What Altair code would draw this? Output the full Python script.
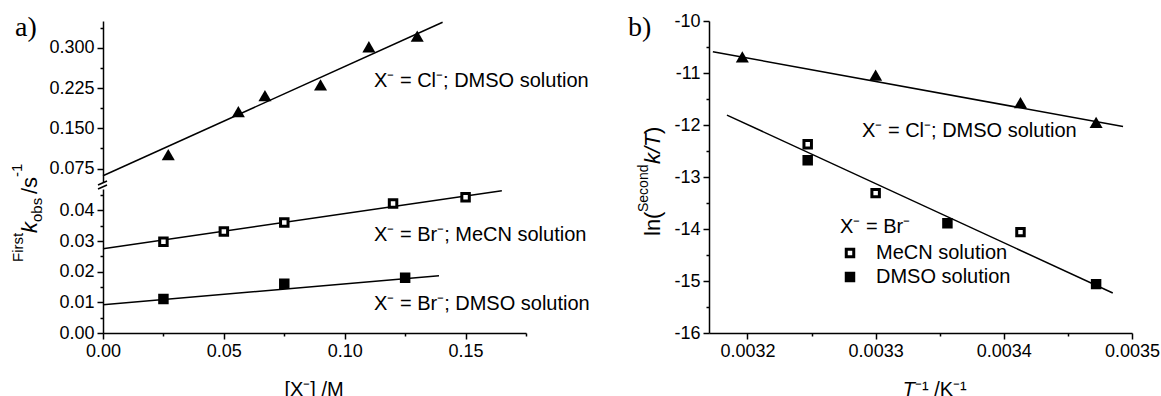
import altair as alt
import pandas as pd

FONT = "Liberation Sans"
SERIF = "Liberation Serif"

# ---------------- Panel a data ----------------
cl_a_x = [0.027, 0.056, 0.067, 0.090, 0.110, 0.130]
cl_a_y = [0.101, 0.181, 0.211, 0.231, 0.302, 0.322]
cl_a_fit_x = [0.0, 0.1405]
cl_a_fit_y = [0.0616, 0.3477]

mecn_a_x = [0.025, 0.050, 0.075, 0.120, 0.150]
mecn_a_y = [0.0298, 0.0331, 0.0361, 0.0423, 0.0443]
mecn_a_fit_x = [0.0, 0.165]
mecn_a_fit_y = [0.0275, 0.0464]

dmso_a_x = [0.025, 0.075, 0.125]
dmso_a_y = [0.0111, 0.0161, 0.0180]
dmso_a_fit_x = [0.0, 0.139]
dmso_a_fit_y = [0.0092, 0.0187]

# ---------------- Panel b data ----------------
cl_b_x = [0.003196, 0.003300, 0.003413, 0.003472]
cl_b_y = [-10.69, -11.04, -11.57, -11.95]
cl_b_fit_x = [0.003173, 0.003493]
cl_b_fit_y = [-10.59, -12.03]

mecn_b_x = [0.003247, 0.003300, 0.003413]
mecn_b_y = [-12.37, -13.31, -14.06]
dmso_b_x = [0.003247, 0.003356, 0.003472]
dmso_b_y = [-12.68, -13.89, -15.06]
br_b_fit_x = [0.003184, 0.003485]
br_b_fit_y = [-11.81, -15.23]

solvents = ["MeCN solution", "DMSO solution"]

# ---------------- Ticks ----------------
a_x_major = [0.0, 0.05, 0.10, 0.15]
a_x_minor = [0.025, 0.075, 0.125, 0.175]
a_up_major = [0.075, 0.150, 0.225, 0.300]
a_up_minor = [0.1125, 0.1875, 0.2625, 0.3375]
a_lo_major = [0.0, 0.01, 0.02, 0.03, 0.04]
a_lo_minor = [0.005, 0.015, 0.025, 0.035, 0.045]
b_x_major = [0.0032, 0.0033, 0.0034, 0.0035]
b_x_minor = [0.00325, 0.00335, 0.00345]
b_y_major = [-16, -15, -14, -13, -12, -11, -10]
b_y_minor = [-15.5, -14.5, -13.5, -12.5, -11.5, -10.5]

# ---------------- Tables ----------------
df_cl_a = pd.DataFrame({"x": cl_a_x, "y": cl_a_y})
df_cl_a_fit = pd.DataFrame({"x": cl_a_fit_x, "y": cl_a_fit_y})
df_mecn_a = pd.DataFrame({"x": mecn_a_x, "y": mecn_a_y})
df_dmso_a = pd.DataFrame({"x": dmso_a_x, "y": dmso_a_y})
df_br_a_fit = pd.concat([
    pd.DataFrame({"x": mecn_a_fit_x, "y": mecn_a_fit_y, "s": "MeCN"}),
    pd.DataFrame({"x": dmso_a_fit_x, "y": dmso_a_fit_y, "s": "DMSO"}),
])
df_cl_b = pd.DataFrame({"x": cl_b_x, "y": cl_b_y})
df_b_fit = pd.concat([
    pd.DataFrame({"x": cl_b_fit_x, "y": cl_b_fit_y, "s": "Cl"}),
    pd.DataFrame({"x": br_b_fit_x, "y": br_b_fit_y, "s": "Br"}),
])
df_br_b = pd.concat([
    pd.DataFrame({"x": mecn_b_x, "y": mecn_b_y, "solvent": solvents[0]}),
    pd.DataFrame({"x": dmso_b_x, "y": dmso_b_y, "solvent": solvents[1]}),
])

# Whole drawing area: panel a occupies [0, 423], panel b [606, 1029]
W, H = 1029, 312
BX = 606  # left edge of panel b

def xa():
    return alt.Scale(domain=[0, 0.175], range=[0, 423], nice=False, zero=False)

def ya_up():
    return alt.Scale(domain=[0.05, 0.35], range=[161, 0], nice=False, zero=False)

def ya_lo():
    return alt.Scale(domain=[0, 0.047], range=[312, 168], nice=False, zero=False)

def xb():
    return alt.Scale(domain=[0.00317, 0.0035], range=[BX, BX + 423], nice=False, zero=False)

def yb():
    return alt.Scale(domain=[-16, -10], range=[312, 0], nice=False, zero=False)


_one = pd.DataFrame({"k": [0]})


def label(text, x, y, size=20, font=FONT, style=None, align="left", angle=None,
          baseline="alphabetic"):
    kw = dict(text=text, fontSize=size, font=font, color="black", align=align,
              baseline=baseline)
    if style:
        kw["fontStyle"] = style
    if angle is not None:
        kw["angle"] = angle
    return alt.Chart(_one).mark_text(**kw).encode(x=alt.value(x), y=alt.value(y))


def minor(values, orient, offset=0):
    return alt.Axis(values=values, labels=False, tickSize=3, domain=False,
                    title=None, orient=orient, offset=offset)


def major(values, orient, fmt=None, expr=None, offset=0):
    kw = dict(values=values, title=None, orient=orient, offset=offset)
    if fmt:
        kw["format"] = fmt
    if expr:
        kw["labelExpr"] = expr
    return alt.Axis(**kw)


def rule(x, x2, y, y2):
    return alt.Chart(_one).mark_rule(color="black", strokeWidth=1.5).encode(
        x=alt.value(x), x2=alt.value(x2), y=alt.value(y), y2=alt.value(y2))


# ---------------- Panel a, upper segment ----------------
up_fit = alt.Chart(df_cl_a_fit).mark_line(color="black", strokeWidth=1.5).encode(
    x=alt.X("x:Q", scale=xa(), axis=None),
    y=alt.Y("y:Q", scale=ya_up(), axis=major(a_up_major, "left", ".3f")),
)
up_pts = alt.Chart(df_cl_a).mark_point(shape="triangle-up", filled=True, size=170,
                                       color="black", opacity=1).encode(
    x=alt.X("x:Q", scale=xa(), axis=None),
    y=alt.Y("y:Q", scale=ya_up(), axis=minor(a_up_minor, "left")),
)

# ---------------- Panel a, lower segment ----------------
lo_fit = alt.Chart(df_br_a_fit).mark_line(color="black", strokeWidth=1.5).encode(
    x=alt.X("x:Q", scale=xa(), axis=major(a_x_major, "bottom", ".2f")),
    y=alt.Y("y:Q", scale=ya_lo(), axis=major(a_lo_major, "left", ".2f")),
    detail="s:N",
)
lo_open = alt.Chart(df_mecn_a).mark_point(shape="square", filled=True, size=56,
                                          fill="white", stroke="black",
                                          strokeWidth=3, opacity=1).encode(
    x=alt.X("x:Q", scale=xa(), axis=minor(a_x_minor, "bottom")),
    y=alt.Y("y:Q", scale=ya_lo(), axis=minor(a_lo_minor, "left")),
)
lo_fill = alt.Chart(df_dmso_a).mark_point(shape="square", filled=True, size=56,
                                          fill="black", stroke="black",
                                          strokeWidth=3, opacity=1).encode(
    x=alt.X("x:Q", scale=xa(), axis=None),
    y=alt.Y("y:Q", scale=ya_lo(), axis=None),
)

# ---------------- Panel b ----------------
b_fit = alt.Chart(df_b_fit).mark_line(color="black", strokeWidth=1.5).encode(
    x=alt.X("x:Q", scale=xb(), axis=major(b_x_major, "bottom", ".4f")),
    y=alt.Y("y:Q", scale=yb(), axis=major(b_y_major, "left", expr="'' + datum.value",
                                          offset=-BX)),
    detail="s:N",
)
b_cl = alt.Chart(df_cl_b).mark_point(shape="triangle-up", filled=True, size=170,
                                     color="black", opacity=1).encode(
    x=alt.X("x:Q", scale=xb(), axis=minor(b_x_minor, "bottom")),
    y=alt.Y("y:Q", scale=yb(), axis=minor(b_y_minor, "left", offset=-BX)),
)
b_br = alt.Chart(df_br_b).mark_point(shape="square", filled=True, size=56,
                                     stroke="black", strokeWidth=3, opacity=1).encode(
    x=alt.X("x:Q", scale=xb(), axis=None),
    y=alt.Y("y:Q", scale=yb(), axis=None),
    fill=alt.Fill("solvent:N", scale=alt.Scale(domain=solvents, range=["white", "black"]),
                  legend=alt.Legend(
                      title="X\u207b = Br\u207b", orient="none", legendX=BX + 131,
                      legendY=196, direction="vertical", titleFont=FONT,
                      titleFontSize=20, titleFontWeight="normal", titleColor="black",
                      titlePadding=6, labelFont=FONT, labelFontSize=20,
                      labelColor="black", labelOffset=16, symbolType="square",
                      symbolSize=56, symbolStrokeColor="black", symbolStrokeWidth=3,
                      symbolOpacity=1, rowPadding=4, padding=0)),
)

anchor = alt.Chart(_one).mark_rect(opacity=0).encode(
    x=alt.value(-103), x2=alt.value(-102), y=alt.value(-21), y2=alt.value(-20))

chart = alt.layer(
    up_fit, up_pts, lo_fit, lo_open, lo_fill, b_fit, b_cl, b_br, anchor,
    # axis break marks
    rule(-5, 4, 164, 160),
    rule(-5, 4, 168, 164),
    # panel a texts
    label("X\u207b = Cl\u207b; DMSO solution", 271, 66),
    label("X\u207b = Br\u207b; MeCN solution", 271, 220),
    label("X\u207b = Br\u207b; DMSO solution", 271, 289),
    label("a)", -88, 15, size=28, font=SERIF),
    label("[X\u207b] /M", 211, 375, align="center"),
    label("First", -80, 241, size=15, angle=270),
    label("k", -66, 212, size=22, style="italic", angle=270),
    label("obs", -61, 201, size=15, angle=270),
    label("/s", -66, 173, size=22, angle=270),
    label("-1", -81, 156, size=15, angle=270),
    # panel b texts
    label("X\u207b = Cl\u207b; DMSO solution", BX + 153, 116),
    label("b)", BX - 81, 15, size=28, font=SERIF),
    label("T", BX + 206, 375, style="italic", align="right"),
    label("\u207b\u00b9 /K\u207b\u00b9", BX + 206, 375),
    label("ln(", BX - 49, 215, size=22, angle=270),
    label("Second", BX - 61, 191, size=14, angle=270),
    label("k/T", BX - 49, 143, size=22, style="italic", angle=270),
    label(")", BX - 49, 113, size=22, angle=270),
).resolve_scale(x="independent", y="independent", fill="independent").resolve_axis(
    x="independent", y="independent"
).properties(width=W, height=H, padding=0, background="white").configure_view(
    stroke=None
).configure_axis(
    domainColor="black", domainWidth=1.5, tickColor="black", tickWidth=1.5,
    tickSize=6, labelFont=FONT, labelFontSize=18, labelColor="black",
    labelPadding=3, grid=False, labelFlush=False, labelOverlap=False,
)

chart.save("out.html", embed_options={"renderer": "svg", "actions": False})
